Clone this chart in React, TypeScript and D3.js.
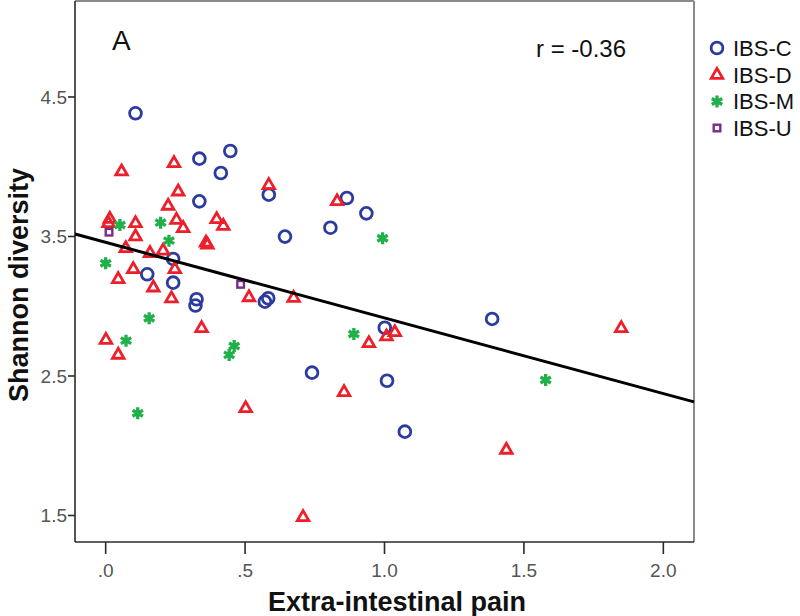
import React from "react";
import * as d3 from "d3";

type Pt = [number, number];

const ibsC: Pt[] = [
  [0.107, 4.383], [0.336, 4.058], [0.447, 4.113], [0.413, 3.955], [0.336, 3.752],
  [0.585, 3.80], [0.643, 3.499], [0.242, 3.339], [0.149, 3.229], [0.242, 3.169],
  [0.326, 3.05], [0.322, 3.005], [0.571, 3.033], [0.583, 3.057], [0.740, 2.524],
  [0.865, 3.776], [0.935, 3.666], [0.806, 3.563], [1.386, 2.909], [1.001, 2.846],
  [1.009, 2.466], [1.073, 2.101],
];

const ibsD: Pt[] = [
  [0.057, 3.965], [0.245, 4.025], [0.260, 3.821], [0.224, 3.719], [0.015, 3.625],
  [0.010, 3.595], [0.107, 3.594], [0.107, 3.499], [0.254, 3.618], [0.278, 3.559],
  [0.398, 3.623], [0.422, 3.575], [0.360, 3.455], [0.365, 3.44], [0.072, 3.415],
  [0.159, 3.38], [0.206, 3.398], [0.099, 3.265], [0.248, 3.265], [0.045, 3.193],
  [0.171, 3.133], [0.236, 3.055], [0.514, 3.063], [0.674, 3.059], [0.344, 2.842],
  [0.001, 2.758], [0.045, 2.651], [0.502, 2.268], [0.708, 1.487], [0.585, 3.867],
  [0.830, 3.752], [1.007, 2.782], [1.037, 2.813], [0.944, 2.734], [0.855, 2.383],
  [1.437, 1.970], [1.849, 2.842],
];

const ibsM: Pt[] = [
  [0.051, 3.582], [0.197, 3.599], [0.227, 3.470], [0.0, 3.308], [0.156, 2.914],
  [0.073, 2.753], [0.461, 2.715], [0.443, 2.651], [0.115, 2.233], [0.993, 3.487],
  [0.890, 2.801], [1.578, 2.471],
];

const ibsU: Pt[] = [
  [0.012, 3.531], [0.484, 3.157],
];

const xTicks = [0, 0.5, 1.0, 1.5, 2.0];
const xTickLabels = [".0", ".5", "1.0", "1.5", "2.0"];
const yTicks = [1.5, 2.5, 3.5, 4.5];
const yTickLabels = ["1.5", "2.5", "3.5", "4.5"];

const fitIntercept = 3.458;
const fitSlope = -0.542;

const groupNames = ["IBS-C", "IBS-D", "IBS-M", "IBS-U"];

const COLORS = {
  C: "#2b3c9e",
  D: "#ec1f2a",
  M: "#1fb04a",
  U: "#7b2a8a",
};

const FONT = "'Liberation Sans', Arial, Helvetica, sans-serif";

const left = 75;
const right = 694;
const top = 1;
const bottom = 542;

const x = d3.scaleLinear().domain([-0.11, 2.11]).range([left, right]);
const y = d3.scaleLinear().domain([1.31, 5.188]).range([bottom, top]);

function Circle({ cx, cy }: { cx: number; cy: number }) {
  return <circle cx={cx} cy={cy} r={5.9} fill="none" stroke={COLORS.C} strokeWidth={2.8} />;
}

function Triangle({ cx, cy }: { cx: number; cy: number }) {
  const s = 11.5;
  const h = (s * Math.sqrt(3)) / 2;
  const p = d3.path();
  p.moveTo(cx, cy - (2 * h) / 3);
  p.lineTo(cx + s / 2, cy + h / 3);
  p.lineTo(cx - s / 2, cy + h / 3);
  p.closePath();
  return <path d={p.toString()} fill="none" stroke={COLORS.D} strokeWidth={2.8} strokeLinejoin="miter" />;
}

function Star({ cx, cy }: { cx: number; cy: number }) {
  const r = 6;
  const p = d3.path();
  for (let i = 0; i < 3; i++) {
    const a = (Math.PI / 3) * i + Math.PI / 2;
    p.moveTo(cx + r * Math.cos(a), cy + r * Math.sin(a));
    p.lineTo(cx - r * Math.cos(a), cy - r * Math.sin(a));
  }
  return <path d={p.toString()} fill="none" stroke={COLORS.M} strokeWidth={3.3} />;
}

function Square({ cx, cy }: { cx: number; cy: number }) {
  const s = 6.6;
  return (
    <rect x={cx - s / 2} y={cy - s / 2} width={s} height={s} fill="none" stroke={COLORS.U} strokeWidth={2.4} />
  );
}

export default function App() {
  const xa = x.domain()[0];
  const xb = x.domain()[1];
  const legendRows = [48, 75, 101.5, 128];
  const legendMarkers = [Circle, Triangle, Star, Square];

  return (
    <svg
      width={800}
      height={616}
      style={{ position: "absolute", left: 0, top: 0, background: "#fff" }}
      fontFamily={FONT}
    >
      <rect x={0} y={0} width={800} height={616} fill="#fff" />

      {/* frame */}
      <line x1={left} y1={top} x2={right} y2={top} stroke="#8a8a8a" strokeWidth={2} />
      <line x1={right} y1={top} x2={right} y2={bottom} stroke="#8a8a8a" strokeWidth={2} />
      <line x1={left} y1={top} x2={left} y2={bottom} stroke="#2a2a2a" strokeWidth={1.6} />
      <line x1={left} y1={bottom} x2={right} y2={bottom} stroke="#2a2a2a" strokeWidth={1.6} />

      {/* y ticks */}
      {yTicks.map((t, i) => (
        <g key={"y" + i}>
          <line x1={left - 7} x2={left} y1={y(t)} y2={y(t)} stroke="#2a2a2a" strokeWidth={1.6} />
          <text x={left - 8} y={y(t)} dy="0.35em" textAnchor="end" fontSize={19} fill="#555">
            {yTickLabels[i]}
          </text>
        </g>
      ))}

      {/* x ticks */}
      {xTicks.map((t, i) => (
        <g key={"x" + i}>
          <line x1={x(t)} x2={x(t)} y1={bottom} y2={bottom + 12} stroke="#2a2a2a" strokeWidth={1.6} />
          <text x={x(t)} y={577} textAnchor="middle" fontSize={19} fill="#555">
            {xTickLabels[i]}
          </text>
        </g>
      ))}

      {/* axis titles */}
      <text x={397} y={611} textAnchor="middle" fontSize={27} fontWeight="bold" fill="#111">
        Extra-intestinal pain
      </text>
      <text
        transform={`translate(28,285) rotate(-90)`}
        textAnchor="middle"
        fontSize={27}
        fontWeight="bold"
        fill="#111"
      >
        Shannon diversity
      </text>

      {/* points */}
      {ibsC.map((d, i) => (
        <Circle key={"c" + i} cx={x(d[0])} cy={y(d[1])} />
      ))}
      {ibsD.map((d, i) => (
        <Triangle key={"d" + i} cx={x(d[0])} cy={y(d[1])} />
      ))}
      {ibsM.map((d, i) => (
        <Star key={"m" + i} cx={x(d[0])} cy={y(d[1])} />
      ))}
      {ibsU.map((d, i) => (
        <Square key={"u" + i} cx={x(d[0])} cy={y(d[1])} />
      ))}

      {/* fit line */}
      <line
        x1={x(xa)}
        y1={y(fitIntercept + fitSlope * xa)}
        x2={x(xb)}
        y2={y(fitIntercept + fitSlope * xb)}
        stroke="#000"
        strokeWidth={3}
      />

      {/* annotations */}
      <text x={112} y={50} fontSize={28} fill="#111">A</text>
      <text x={536} y={57} fontSize={24} fill="#111">r = -0.36</text>

      {/* legend */}
      {groupNames.map((name, i) => {
        const M = legendMarkers[i];
        return (
          <g key={"l" + i}>
            <M cx={717} cy={legendRows[i]} />
            <text x={733} y={legendRows[i]} dy="0.36em" fontSize={22} fill="#111">
              {name}
            </text>
          </g>
        );
      })}
    </svg>
  );
}
